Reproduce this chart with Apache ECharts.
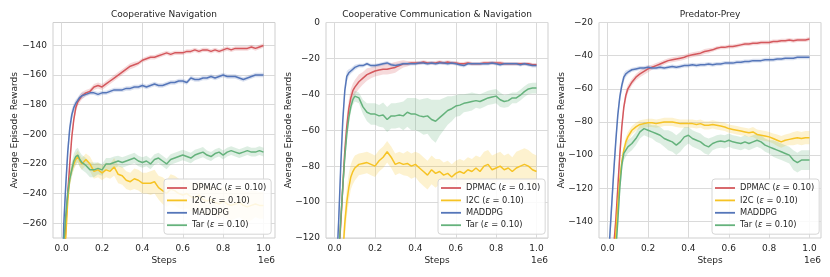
<!DOCTYPE html>
<html><head><meta charset="utf-8">
<script src="https://cdn.jsdelivr.net/npm/echarts@6/dist/echarts.min.js"></script>
<style>html,body{margin:0;padding:0;background:#fff}#c{width:830px;height:277px}</style>
</head><body><div id="c"></div>
<script>
// ---------------- DATA ----------------
const steps = [0,0.01,0.02,0.03,0.04,0.05,0.06,0.07,0.08,0.09,0.10,
  0.12,0.14,0.16,0.18,0.20,0.22,0.24,0.26,0.28,0.30,
  0.32,0.34,0.36,0.38,0.40,0.42,0.44,0.46,0.48,0.50,
  0.52,0.54,0.56,0.58,0.60,0.62,0.64,0.66,0.68,0.70,
  0.72,0.74,0.76,0.78,0.80,0.82,0.84,0.86,0.88,0.90,
  0.92,0.94,0.96,0.98,1.00];
const methodNames = ['DPMAC (ε = 0.10)', 'I2C (ε = 0.10)', 'MADDPG', 'Tar (ε = 0.10)'];
const panelTitles = ['Cooperative Navigation', 'Cooperative Communication & Navigation', 'Predator-Prey'];
const xTicks = [0, 0.2, 0.4, 0.6, 0.8, 1.0];
const yTicksNav = [-260, -240, -220, -200, -180, -160, -140];
const yTicksComm = [-120, -100, -80, -60, -40, -20, 0];
const yTicksPred = [-140, -120, -100, -80, -60, -40, -20];

// Cooperative Navigation
const navDpmac = [-330,-300,-262,-240,-220,-202,-190,-182,-178,-176,-174,
  -172,-171,-168,-167,-168,-166,-164,-162,-160,-158,
  -156,-154,-153,-152,-150,-149,-148,-148,-147,-146,
  -145,-146,-145,-145,-145,-144,-144,-143,-144,-143,
  -143,-144,-143,-144,-143,-142,-143,-142,-142,-142,
  -142,-141,-142,-141,-140];
const navDpmacSd = [6,6,6,5,5,4,3,3,2.5,2.5,2.5,
  2,2,2,2,2,2,2,2,2,2,
  2,2,2,1.5,1.5,1.5,1.5,1.5,1.5,1.5,
  1.5,1.5,1.5,1.5,1.5,1.5,1.5,1.5,1.5,1.5,
  1.5,1.5,1.5,1.5,1.5,1.5,1.5,1.5,1.5,1.5,
  1.5,1.5,1.5,1.5,1.5];
const navI2c = [-340,-300,-270,-245,-230,-224,-220,-217,-215,-218,-220,
  -217,-220,-225,-224,-226,-224,-225,-222,-227,-228,
  -231,-232,-230,-231,-233,-233,-233,-232,-236,-238,
  -240,-237,-238,-240,-241,-240,-242,-243,-241,-244,
  -245,-244,-246,-247,-245,-247,-248,-247,-246,-248,
  -249,-248,-247,-248,-248];
const navI2cSd = [8,8,7,6,5,4,4,4,4,4,4,
  4,5,5,5,5,5,5,6,6,6,
  6,6,7,7,7,7,8,8,8,9,
  9,10,10,10,10,10,10,10,10,10,
  10,10,10,10,10,10,10,10,10,10,
  10,10,9,9,9];
const navMaddpg = [-320,-262,-235,-212,-196,-187,-182,-179,-177,-175,-174,
  -173,-172,-172,-173,-172,-172,-171,-170,-170,-170,
  -169,-169,-168,-168,-167,-168,-167,-166,-167,-167,
  -166,-165,-165,-164,-164,-165,-162,-163,-163,-162,
  -162,-161,-162,-161,-160,-161,-161,-161,-162,-163,
  -162,-161,-160,-160,-160];
const navMaddpgSd = [8,8,7,6,5,4,3,2.5,2,2,2,
  1.5,1.5,1.5,1.5,1.5,1.5,1.5,1.5,1.5,1.5,
  1.5,1.5,1.5,1.5,1.5,1.5,1.5,1.5,1.5,1.5,
  1.5,1.5,1.5,1.5,1.5,1.5,1.5,1.5,1.5,1.5,
  1.5,1.5,1.5,1.5,1.5,1.5,1.5,1.5,1.5,1.5,
  1.5,1.5,1.5,1.5,1.5];
const navTar = [-300,-275,-255,-240,-230,-224,-218,-215,-214,-217,-219,
  -221,-224,-224,-223,-224,-220,-220,-219,-218,-219,
  -218,-217,-216,-218,-219,-218,-220,-217,-216,-218,
  -220,-217,-216,-215,-214,-215,-216,-214,-213,-212,
  -214,-215,-213,-212,-214,-212,-211,-212,-213,-212,
  -211,-212,-212,-211,-212];
const navTarSd = [6,6,6,5,5,5,5,5,5,5,5,
  5,5,5,4,4,4,4,4,3.5,3.5,
  3.5,3.5,3.5,3.5,3.5,3.5,3.5,3.5,3.5,3.5,
  3.5,3.5,3.5,3.5,3.5,3.5,3.5,3.5,3.5,3.5,
  3,3,3,3,3,3,3,3,3,3,
  3,3,3,3,3];

// Cooperative Communication & Navigation
const commDpmac = [-170,-150,-130,-112,-92,-72,-58,-48,-42,-38,-36,
  -33,-31,-29,-28,-27,-26.5,-26,-26,-25.5,-25,
  -24,-23,-23,-22.5,-22.5,-22.5,-22,-22.5,-22.5,-22.5,
  -22,-22.5,-22,-22.5,-22.5,-23,-23,-22.5,-23,-23,
  -23,-22.5,-22.5,-22.5,-22.5,-22.5,-23,-23,-23,-23,
  -23,-23,-23,-23.5,-23.5];
const commDpmacSd = [8,8,8,8,8,7,6,5,5,4,4,
  4,3.5,3.5,3,3,3,3,3,3,3,
  2.5,2,1.5,1,1,1,1,1,1,1,
  1,1,1,1,1,1,1,1,1,1,
  1,1,1,1,1,1,1,1,1,1,
  1,1,1,1,1];
const commI2c = [-200,-185,-170,-150,-130,-112,-100,-92,-86,-83,-81,
  -79,-78.5,-78,-79,-80,-77,-75,-72,-75,-79,
  -78,-79,-78.5,-80,-79,-81,-83,-85,-82,-84,
  -83,-85,-84,-86,-84,-83,-84,-82,-83,-81,
  -83,-80,-79,-82,-81,-80,-82,-81,-83,-81,
  -80,-79,-80,-82,-83];
const commI2cSd = [8,8,8,8,8,8,8,8,7,7,7,
  6,6,6,6,6,6,6,6,6,6,
  6,6,7,7,7,8,8,8,8,8,
  7,7,7,7,7,7,7,7,7,7,
  8,8,8,8,8,8,8,8,8,9,
  9,9,9,9,9];
const commMaddpg = [-160,-135,-110,-80,-55,-38,-30,-28,-27,-26,-25,
  -24,-24,-23,-24,-24,-23.5,-23,-22.5,-23.5,-24,
  -23.5,-23,-23,-23,-23,-22.5,-22.5,-23,-22.5,-23,
  -22.5,-22.5,-23,-22.5,-23,-23.5,-24,-23,-23,-23,
  -23,-23,-23,-22.5,-23,-23.5,-23,-23,-23,-23,
  -23.5,-23,-23.5,-24,-24];
const commMaddpgSd = [8,8,7,6,5,4,3,2,1.5,1.5,1.5,
  1,1,1,1,1,1,1,1,1,1,
  1,1,1,1,1,1,1,1,1,1,
  1,1,1,1,1,1,1,1,1,1,
  1,1,1,1,1,1,1,1,1,1,
  1,1,1,1,1];
const commTar = [-170,-150,-130,-110,-92,-75,-62,-53,-47,-43,-41,
  -42,-47,-50,-51,-51,-52,-51.5,-54,-52,-52,
  -51.5,-52,-50,-51,-51,-52,-52.5,-52,-54,-55,
  -53,-51,-49,-48,-46.5,-46,-45,-44.5,-44,-43.5,
  -44,-43,-42,-41.5,-41,-43,-44,-43.5,-42,-42,
  -40.5,-38.5,-37,-36.5,-36.5];
const commTarSd = [6,6,6,6,6,5,5,4,3,3,3,
  3,4,5,6,6,6,7,7,7,7,
  7,8,8,9,9,9,10,10,11,12,
  10,9,8,7,6,6,5,5,5,4,
  4,4,4,4,4,4,3.5,3.5,3,3,
  3,3,3,3,3];

// Predator-Prey
const predDpmac = [-230,-200,-175,-155,-140,-120,-100,-83,-71,-64,-60,
  -56,-53,-51,-49.5,-48,-47,-46,-45,-44,-43,
  -42.5,-42,-41.5,-41,-40,-39.5,-39,-38.5,-37.5,-37,
  -36.5,-35.5,-35,-35,-34.5,-34.5,-34,-33.5,-33,-33,
  -32.5,-32.5,-32,-32,-32,-31.5,-31.5,-31,-31,-30.5,
  -31,-30.5,-30.5,-30.5,-30];
const predDpmacSd = [6,6,6,6,6,5,5,4,3,3,2.5,
  2,2,2,2,2,1.5,1.5,1.5,1.5,1.5,
  1.5,1.5,1.5,1.5,1.5,1.5,1.5,1.5,1.5,1.5,
  1.2,1.2,1.2,1.2,1.2,1.2,1.2,1.2,1.2,1.2,
  1.2,1.2,1.2,1.2,1.2,1.2,1.2,1.2,1.2,1.2,
  1.2,1.2,1.2,1.2,1.2];
const predI2c = [-240,-210,-185,-165,-148,-130,-115,-104,-97,-92,-89,
  -85,-83,-81.5,-81,-80.5,-80.5,-81,-80.5,-80,-80,
  -80,-80.5,-81,-81,-81,-81,-81.5,-81,-82,-82,
  -81.5,-82,-82.5,-83,-84,-84.5,-85,-85.5,-86,-86.5,
  -86,-87.5,-88,-88.5,-89,-90,-91,-92,-91,-90.5,
  -90,-89.5,-90,-89.5,-89.5];
const predI2cSd = [5,5,5,5,5,4,4,3,3,3,3,
  2.5,2.5,2.5,2.5,2.5,2.5,2.5,2.5,2.5,2.5,
  2.5,2.5,2.5,2.5,2.5,2.5,2.5,2.5,2.5,2.5,
  2.5,2.5,2.5,2.5,2.5,2.5,2.5,2.5,2.5,2.5,
  3,3,3,3,3,3,3.5,3.5,3.5,3.5,
  4,4,4,4,4];
const predMaddpg = [-190,-150,-130,-110,-92,-76,-65,-58,-53,-51,-50,
  -48.5,-48,-47.5,-47.5,-47,-47.5,-47.5,-47,-47.5,-47,
  -46.5,-47,-46.5,-46,-46,-45.5,-46,-45.5,-45.5,-45,
  -45.5,-45,-45,-44.5,-44.5,-44.5,-44,-44,-43.5,-43.5,
  -43,-43,-43,-42.5,-42.5,-42.5,-42,-42,-41.5,-41.5,
  -41.5,-41,-41,-41,-41];
const predMaddpgSd = [8,8,7,6,5,4,3.5,3,2.5,2,1.5,
  1.2,1.2,1.2,1.2,1.2,1.2,1.2,1.2,1.2,1.2,
  1.2,1.2,1.2,1.2,1.2,1.2,1.2,1.2,1.2,1.2,
  1.2,1.2,1.2,1.2,1.2,1.2,1.2,1.2,1.2,1.2,
  1.2,1.2,1.2,1.2,1.2,1.2,1.2,1.2,1.2,1.2,
  1.2,1.2,1.2,1.2,1.2];
const predTar = [-250,-220,-195,-175,-158,-140,-120,-106,-99,-97,-95,
  -93,-90,-86,-84,-85,-86,-87,-88,-90,-91,
  -92,-94,-92,-89,-88,-90,-91,-92,-94,-95,
  -93,-92,-91.5,-92,-91,-92,-92.5,-93,-92,-93,
  -92,-91,-92,-94,-95,-96,-97,-98,-99,-100,
  -103,-104.5,-103,-103,-103];
const predTarSd = [5,5,5,5,5,5,5,4,4,4,4,
  4,4,4,4,4,4,5,5,5,6,
  6,6,6,6,5,5,5,5,5,5,
  4,4,4,4,4,4,4,4,4,4,
  4,4,4,4,4,5,5,5,5,5,
  6,6,6,6,6];

// ---------------- LAYOUT / STYLE ----------------
const colors = ['#d4585d', '#f6c324', '#5576b9', '#65b27c'];
const FONT = 'DejaVu Sans';
const TXT = '#262626';
const panels = [
  {grid: {left: 53, top: 22.5, width: 222, height: 215.5}, ymin: -270, ymax: -124.5, yticks: yTicksNav,
   means: [navDpmac, navI2c, navMaddpg, navTar], sds: [navDpmacSd, navI2cSd, navMaddpgSd, navTarSd],
   legendLeft: 164, ylabX: 15},
  {grid: {left: 326, top: 22.5, width: 222, height: 215.5}, ymin: -120, ymax: 0, yticks: yTicksComm,
   means: [commDpmac, commI2c, commMaddpg, commTar], sds: [commDpmacSd, commI2cSd, commMaddpgSd, commTarSd],
   legendLeft: 438, ylabX: 289},
  {grid: {left: 599, top: 22.5, width: 222, height: 215.5}, ymin: -150, ymax: -20, yticks: yTicksPred,
   means: [predDpmac, predI2c, predMaddpg, predTar], sds: [predDpmacSd, predI2cSd, predMaddpgSd, predTarSd],
   legendLeft: 712, ylabX: 562}
];

const grids = [], xAxes = [], yAxes = [], series = [], legends = [], graphics = [];
const fmtY = v => (v < 0 ? '\u2212' : '') + Math.abs(v);

function bandRender(color) {
  return function (params, api) {
    if (params.dataIndexInside !== 0) return null;
    const n = params.dataInsideLength;
    const top = [], bot = [];
    for (let i = 0; i < n; i++) {
      const x = api.value(0, i);
      top.push(api.coord([x, api.value(2, i)]));
      bot.push(api.coord([x, api.value(1, i)]));
    }
    return {type: 'polygon', shape: {points: top.concat(bot.reverse())},
      style: {fill: color, opacity: 0.22}};
  };
}

panels.forEach((p, gi) => {
  grids.push(Object.assign({show: true, borderColor: '#cfcfcf', borderWidth: 1, backgroundColor: '#fff'}, p.grid));
  xAxes.push({
    type: 'value', gridIndex: gi, min: -0.043, max: 1.057,
    axisLine: {show: false}, axisTick: {show: false, customValues: xTicks},
    axisLabel: {customValues: xTicks, formatter: v => v.toFixed(1), color: TXT, fontFamily: FONT, fontSize: 9, margin: 6},
    splitLine: {show: true, lineStyle: {color: '#dadada', width: 1}}
  });
  yAxes.push({
    type: 'value', gridIndex: gi, min: p.ymin, max: p.ymax,
    axisLine: {show: false}, axisTick: {show: false, customValues: p.yticks},
    axisLabel: {customValues: p.yticks, formatter: fmtY, color: TXT, fontFamily: FONT, fontSize: 9, margin: 6},
    splitLine: {show: true, lineStyle: {color: '#dadada', width: 1}}
  });
  p.means.forEach((mean, m) => {
    const sd = p.sds[m];
    series.push({
      type: 'custom', name: '_band' + gi + m, xAxisIndex: gi, yAxisIndex: gi, clip: true, silent: true,
      encode: {x: 0, y: [1, 2]},
      data: steps.map((x, i) => [x, mean[i] - sd[i], mean[i] + sd[i]]),
      renderItem: bandRender(colors[m]), z: 1, animation: false
    });
  });
  p.means.forEach((mean, m) => {
    series.push({
      type: 'line', name: methodNames[m], xAxisIndex: gi, yAxisIndex: gi,
      data: steps.map((x, i) => [x, mean[i]]), symbol: 'none', showSymbol: false,
      lineStyle: {color: colors[m], width: 1.5}, itemStyle: {color: colors[m]}, z: 3, animation: false
    });
  });
  legends.push({
    orient: 'vertical', left: p.legendLeft, top: 179, data: methodNames,
    icon: 'rect', itemWidth: 20, itemHeight: 1.8, itemGap: 2.4,
    padding: [4, 5, 4, 3], backgroundColor: 'rgba(255,255,255,0.85)',
    borderColor: '#d6d6d6', borderWidth: 1, borderRadius: 3,
    textStyle: {color: TXT, fontFamily: FONT, fontSize: 8.3, lineHeight: 10,
      rich: {i: {fontStyle: 'italic', fontFamily: FONT, fontSize: 8.3, color: TXT}}},
    formatter: n => n.replace('ε', '{i|ε}'),
    selectedMode: false, z: 10
  });
  const cx = p.grid.left + p.grid.width / 2;
  const right = p.grid.left + p.grid.width;
  const cy = p.grid.top + p.grid.height / 2;
  graphics.push({type: 'text', x: cx, y: 14.5, style: {text: panelTitles[gi], fill: TXT, font: '9px "DejaVu Sans"', align: 'center', verticalAlign: 'middle'}});
  graphics.push({type: 'text', x: cx, y: 261, style: {text: 'Steps', fill: TXT, font: '9px "DejaVu Sans"', align: 'center', verticalAlign: 'middle'}});
  graphics.push({type: 'text', x: right, y: 261, style: {text: '1e6', fill: TXT, font: '9px "DejaVu Sans"', align: 'right', verticalAlign: 'middle'}});
  graphics.push({type: 'text', x: p.ylabX, y: cy, rotation: Math.PI / 2, style: {text: 'Average Episode Rewards', fill: TXT, font: '9px "DejaVu Sans"', align: 'center', verticalAlign: 'middle'}});
});

const chart = echarts.init(document.getElementById('c'), null, {renderer: 'canvas'});
chart.setOption({
  animation: false,
  backgroundColor: '#fff',
  textStyle: {fontFamily: FONT},
  grid: grids, xAxis: xAxes, yAxis: yAxes, series: series, legend: legends,
  graphic: {elements: graphics}
});
</script>
</body></html>
